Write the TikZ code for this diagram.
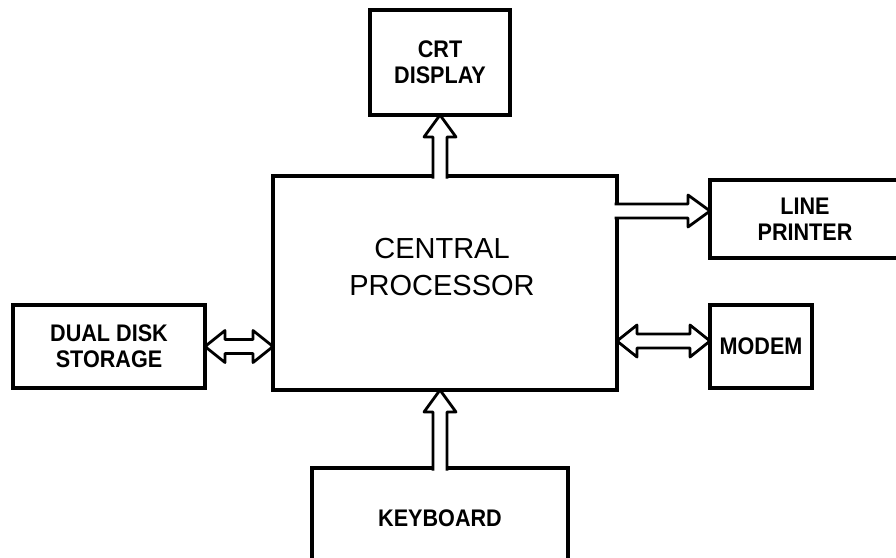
\documentclass[tikz,border=0pt]{standalone}
\usepackage{fontspec}
\setmainfont{Liberation Sans}
\newfontfamily\lblfont[FakeStretch=0.9]{Liberation Sans}
\usetikzlibrary{calc}
\begin{document}
\begin{tikzpicture}[x=1pt,y=-1pt,
  box/.style={draw, line width=3.5pt, outer sep=0pt, inner sep=0pt, align=center,
    font=\lblfont\bfseries\fontsize{24}{26}\selectfont},
  bigbox/.style={draw, line width=4.5pt, outer sep=0pt},
  cptext/.style={align=center, inner sep=0pt, font=\fontsize{29}{37}\selectfont},
  hollow/.style={draw=black, line width=2.8pt, fill=white, line join=round,
    to path={
      ($(\tikztostart)!-2.5pt!(\tikztotarget)$) coordinate (hs)
      ($(\tikztotarget)!22pt!(\tikztostart)$) coordinate (hh)
      ($(hs)!7pt!90:(\tikztotarget)$) -- ($(hh)!7pt!90:(\tikztotarget)$)
      -- ($(hh)!16pt!90:(\tikztotarget)$) -- (\tikztotarget)
      -- ($(hh)!16pt!-90:(\tikztotarget)$) -- ($(hh)!7pt!-90:(\tikztotarget)$)
      -- ($(hs)!7pt!-90:(\tikztotarget)$)
    }},
  hollowboth/.style={draw=black, line width=2.8pt, fill=white, line join=round,
    to path={
      ($(\tikztostart)!20pt!(\tikztotarget)$) coordinate (hs)
      ($(\tikztotarget)!20pt!(\tikztostart)$) coordinate (hh)
      (\tikztostart) -- ($(hs)!16pt!90:(\tikztotarget)$) -- ($(hs)!7pt!90:(\tikztotarget)$)
      -- ($(hh)!7pt!90:(\tikztotarget)$) -- ($(hh)!16pt!90:(\tikztotarget)$)
      -- (\tikztotarget)
      -- ($(hh)!16pt!-90:(\tikztotarget)$) -- ($(hh)!7pt!-90:(\tikztotarget)$)
      -- ($(hs)!7pt!-90:(\tikztotarget)$) -- ($(hs)!16pt!-90:(\tikztotarget)$) -- cycle
    }}
]
\useasboundingbox (0,0) rectangle (896,557);
\clip (0,0) rectangle (896,557);

\node[bigbox, minimum width=344pt, minimum height=214pt] (cp) at (445,283) {};
\node[cptext] (cpt) at (442,267) {CENTRAL\\PROCESSOR};
\node[box, minimum width=140pt, minimum height=105pt] (crt) at (440,62.5) {CRT\\DISPLAY};
\node[box, minimum width=190pt, minimum height=78pt] (lp) at (805,219) {LINE\\PRINTER};
\node[box, minimum width=192pt, minimum height=83pt] (dd) at (109,346.5) {DUAL DISK\\STORAGE};
\node[box, minimum width=102pt, minimum height=83pt] (md) at (761,346.5) {MODEM};
\node[box, minimum width=256pt, minimum height=100pt] (kb) at (440,518) {KEYBOARD};

\coordinate (a1) at (cp.north -| crt.south);
\draw[hollow] (a1) to (crt.south);

\coordinate (a2) at (cp.south -| kb.north);
\draw[hollow] (kb.north) to (a2);

\coordinate (lpy) at (0,211);
\coordinate (a3) at (cp.east |- lpy);
\coordinate (a4) at (lp.west |- lpy);
\draw[hollow] (a3) to (a4);

\coordinate (a5) at (cp.west |- dd.east);
\draw[hollowboth] (dd.east) to (a5);

\coordinate (my) at (0,341);
\coordinate (a6) at (cp.east |- my);
\coordinate (a7) at (md.west |- my);
\draw[hollowboth] (a6) to (a7);
\end{tikzpicture}
\end{document}
